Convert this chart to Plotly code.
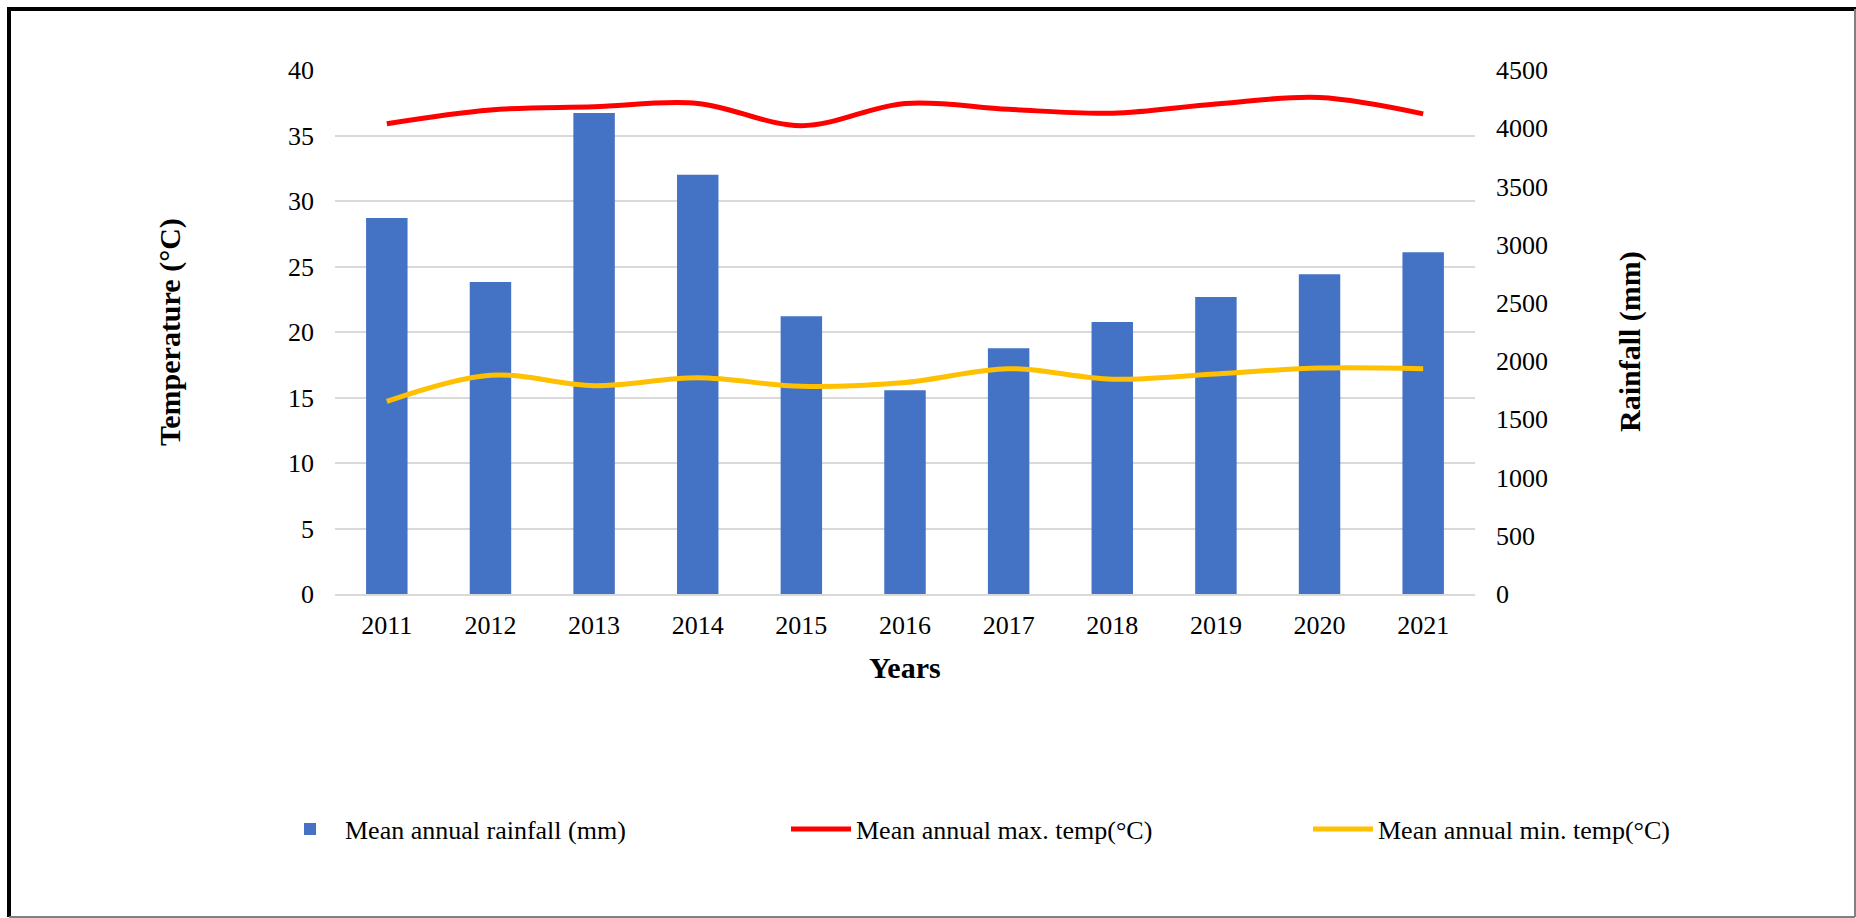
import plotly.graph_objects as go

# Annual climate series
years = ["2011", "2012", "2013", "2014", "2015", "2016", "2017", "2018", "2019", "2020", "2021"]
rainfall_mm = [3230, 2680, 4130, 3600, 2385, 1750, 2110, 2335, 2550, 2745, 2935]
max_temp_c = [35.9, 36.95, 37.2, 37.45, 35.75, 37.45, 37.0, 36.7, 37.4, 37.9, 36.65]
min_temp_c = [14.7, 16.7, 15.9, 16.5, 15.85, 16.15, 17.2, 16.4, 16.8, 17.25, 17.2]

temp_ticks = list(range(0, 41, 5))
rain_ticks = list(range(0, 4501, 500))

W, H = 1856, 918
ML, MR, MT, MB = 335, 381, 70, 324
PW, PH = W - ML - MR, H - MT - MB

def px(x):
    return (x - ML) / PW

def py(y):
    return (H - MB - y) / PH

FONT = "Liberation Serif, Times New Roman, serif"
GRID = "#D9D9D9"

fig = go.Figure()

# Rainfall bars sit on the base (right-hand) axis so the temperature
# lines, on the overlaying axis, are drawn above them.
fig.add_trace(go.Bar(
    x=years, y=rainfall_mm, name="Mean annual rainfall (mm)",
    marker=dict(color="#4472C4", line=dict(width=0)),
    yaxis="y", legend="legend",
))
fig.add_trace(go.Scatter(
    x=years, y=max_temp_c, name="Mean annual max. temp(°C)",
    mode="lines", line=dict(color="#FF0000", width=5, shape="spline", smoothing=1.0),
    yaxis="y2", legend="legend2",
))
fig.add_trace(go.Scatter(
    x=years, y=min_temp_c, name="Mean annual min. temp(°C)",
    mode="lines", line=dict(color="#FFC000", width=5, shape="spline", smoothing=1.0),
    yaxis="y2", legend="legend3",
))

legend_common = dict(
    orientation="h", yanchor="middle", xanchor="left",
    font=dict(family=FONT, size=26, color="#000000"),
    bgcolor="rgba(0,0,0,0)", itemwidth=60, tracegroupgap=0,
)

fig.update_layout(
    width=W, height=H,
    margin=dict(l=ML, r=MR, t=MT, b=MB, pad=0),
    paper_bgcolor="white", plot_bgcolor="white",
    font=dict(family=FONT, size=26, color="#000000"),
    bargap=0.6,
    xaxis=dict(
        type="category", range=[-0.5, 10.5],
        showgrid=False, showline=True, linecolor=GRID, linewidth=2,
        ticks="", ticklabelstandoff=7,
        tickfont=dict(family=FONT, size=26, color="#000000"),
    ),
    yaxis=dict(
        range=[0, 4500], tickvals=rain_ticks, side="right",
        showgrid=False, zeroline=False, showline=False, ticks="", ticklabelstandoff=20,
        tickfont=dict(family=FONT, size=26, color="#000000"),
    ),
    yaxis2=dict(
        range=[0, 40], tickvals=temp_ticks,
        overlaying="y", side="left",
        showgrid=True, gridcolor=GRID, gridwidth=2,
        zeroline=False, showline=False, ticks="", ticklabelstandoff=20,
        tickfont=dict(family=FONT, size=26, color="#000000"),
    ),
    legend=dict(x=px(275), y=py(829), **legend_common),
    legend2=dict(x=px(786), y=py(829), **legend_common),
    legend3=dict(x=px(1308), y=py(829), **legend_common),
    showlegend=True,
)

# Axis titles
title_font = dict(family=FONT, size=30, color="#000000", weight="bold")
fig.add_annotation(text="Temperature (°C)", x=px(170), y=py(332), xref="paper", yref="paper",
                   textangle=-90, showarrow=False, font=title_font,
                   xanchor="center", yanchor="middle")
fig.add_annotation(text="Rainfall (mm)", x=px(1630), y=py(342), xref="paper", yref="paper",
                   textangle=-90, showarrow=False, font=title_font,
                   xanchor="center", yanchor="middle")
fig.add_annotation(text="Years", x=px(905), y=py(667), xref="paper", yref="paper",
                   showarrow=False, font=title_font, xanchor="center", yanchor="middle")

# Outer frame: heavy black on left/top, thin grey on right/bottom
frame = [
    (9, 9, 9, 917, "#000000", 4),
    (7, 9, 1856, 9, "#000000", 4),
    (1855, 9, 1855, 917, "#808080", 2),
    (9, 917, 1855, 917, "#808080", 2),
]
for x0, y0, x1, y1, c, w in frame:
    fig.add_shape(type="line", xref="paper", yref="paper",
                  x0=px(x0), y0=py(y0), x1=px(x1), y1=py(y1),
                  line=dict(color=c, width=w), layer="above")

fig.write_html("out.html")
